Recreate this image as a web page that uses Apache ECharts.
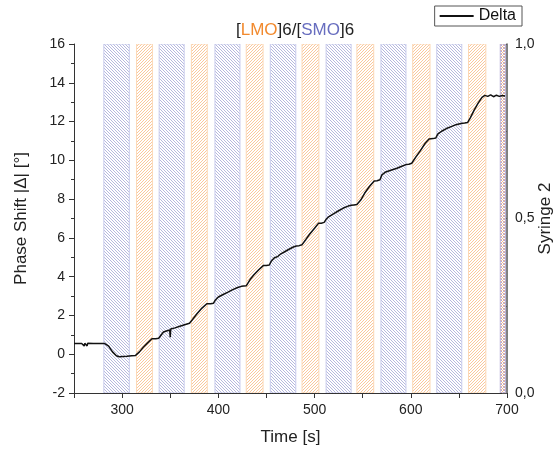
<!DOCTYPE html>
<html>
<head>
<meta charset="utf-8">
<script src="https://cdn.jsdelivr.net/npm/echarts@6/dist/echarts.min.js"></script>
<style>
html,body{margin:0;padding:0;background:#fff;}
#chart{width:556px;height:452px;}
</style>
</head>
<body>
<div id="chart"></div>
<script>
// ---- data ----
const timeS = [250,258,260,260.6,261.2,263,263.6,264.2,270,276,282,286,290,294,297,301,305,310,314,318,322,326,331,335,338,340,343,346,348,349.5,350,350.5,355,360,365,370,373,378,383,388,392,395,397,400,405,410,415,420,424,429,433,437,442,447,450,453,455,458,462,465,468,473,478,481,484,487,491,495,500,504,507,510,512,515,520,525,530,535,538,541,544,548,552,557,562,565,568,570,574,580,585,590,595,598,601,605,610,615,619,623,626,628,632,637,642,647,652,656,659,662,666,670,674,677,680,683,686,689,692,695,698];
const delta = [0.55,0.55,0.55,0.42,0.56,0.55,0.43,0.56,0.55,0.55,0.55,0.42,0.12,-0.08,-0.13,-0.12,-0.11,-0.08,-0.06,0.12,0.36,0.56,0.8,0.8,0.82,0.86,1.15,1.2,1.24,1.25,0.88,1.3,1.36,1.44,1.52,1.6,1.78,2.1,2.38,2.6,2.6,2.63,2.8,2.95,3.08,3.2,3.33,3.44,3.5,3.53,3.85,4.1,4.36,4.58,4.58,4.6,4.8,4.96,5.05,5.18,5.26,5.4,5.53,5.58,5.6,5.65,5.92,6.2,6.5,6.75,6.76,6.8,6.96,7.1,7.25,7.4,7.54,7.64,7.68,7.7,7.72,7.95,8.3,8.65,8.93,8.95,9.0,9.25,9.4,9.5,9.58,9.68,9.78,9.8,9.85,10.15,10.5,10.88,11.1,11.12,11.15,11.35,11.5,11.64,11.74,11.84,11.9,11.92,11.95,12.2,12.6,12.95,13.25,13.35,13.3,13.38,13.28,13.36,13.3,13.34,13.32];
const smoBands = [[281,307.5],[338.5,364.5],[396.5,422.5],[454,480.5],[512,538],[569,595],[627,653]];
const lmoBands = [[315,331.5],[372,388.5],[429,446.5],[487,504.5],[544,561.5],[602,620],[660,678]];
const mixBands = [[693,698.5]];
const xLabels = [300,400,500,600,700];

function makePattern(color, dir, color2) {
  const n = 3;
  const c = document.createElement('canvas');
  c.width = n; c.height = n;
  const g = c.getContext('2d');
  g.fillStyle = '#ffffff';
  g.fillRect(0,0,n,n);
  for (let i = 0; i < n; i++) {
    g.fillStyle = color;
    if (dir === 'back') g.fillRect(i, i, 1, 1);
    else if (dir === 'fwd') g.fillRect(n-1-i, i, 1, 1);
    else { g.fillRect(i, i, 1, 1); g.fillStyle = color2; g.fillRect(n-1-i, i, 1, 1); }
  }
  return {image: c, repeat: 'repeat'};
}
const patBlue = makePattern('#b6b8de', 'back');
const patOrange = makePattern('#fac89c', 'fwd');
const patMix = makePattern('#b0a8d8', 'cross', '#f2b890');

const bandData = [];
smoBands.forEach(b => bandData.push([b[0], b[1], 0]));
lmoBands.forEach(b => bandData.push([b[0], b[1], 1]));
mixBands.forEach(b => bandData.push([b[0], b[1], 2]));

const lineData = timeS.map((t, i) => [t, delta[i]]);

const FONT = 'Liberation Sans, Arial, sans-serif';
const chart = echarts.init(document.getElementById('chart'));
chart.setOption({
  animation: false,
  backgroundColor: '#ffffff',
  title: {
    text: '[{o|LMO}]6/[{b|SMO}]6',
    left: 231, top: 17,
    textStyle: {
      fontFamily: FONT, fontSize: 17, fontWeight: 'normal', color: '#222',
      rich: {
        o: {color: '#f28a2e', fontSize: 17, fontFamily: FONT},
        b: {color: '#676dbf', fontSize: 17, fontFamily: FONT}
      }
    }
  },
  legend: {
    data: ['Delta'],
    right: 34, top: 6,
    borderColor: '#555', borderWidth: 1, borderRadius: 0,
    padding: [2, 6, 2, 4],
    itemWidth: 34, itemHeight: 14, itemGap: 6,
    itemStyle: {opacity: 0},
    textStyle: {fontFamily: FONT, fontSize: 16, color: '#111'}
  },
  grid: {left: 74, right: 49, top: 44, bottom: 59, outerBoundsMode: 'none', containLabel: false},
  xAxis: {
    type: 'value', min: 250, max: 700, interval: 50,
    name: 'Time [s]', nameLocation: 'middle', nameGap: 36,
    nameTextStyle: {fontFamily: FONT, fontSize: 17, color: '#222'},
    axisLine: {show: true, onZero: false, lineStyle: {color: '#333', width: 1}},
    axisTick: {show: true, length: 5, lineStyle: {color: '#333'}},
    axisLabel: {fontFamily: FONT, fontSize: 14, color: '#222', margin: 10,
      formatter: v => (xLabels.indexOf(v) >= 0 ? String(v) : '')},
    splitLine: {show: false}
  },
  yAxis: [{
    type: 'value', min: -2, max: 16, interval: 2,
    name: 'Phase Shift |Δ| [°]', nameLocation: 'middle', nameGap: 44,
    nameTextStyle: {fontFamily: FONT, fontSize: 17, color: '#222'},
    axisLine: {show: true, onZero: false, lineStyle: {color: '#333', width: 1}},
    axisTick: {show: true, length: 5, lineStyle: {color: '#333'}},
    minorTick: {show: true, splitNumber: 2, length: 3, lineStyle: {color: '#333'}},
    axisLabel: {fontFamily: FONT, fontSize: 14, color: '#222', margin: 9},
    splitLine: {show: false}
  }, {
    type: 'value', min: 0, max: 1, interval: 0.5, position: 'right',
    name: 'Syringe 2', nameLocation: 'middle', nameGap: 30, nameRotate: 90,
    nameMoveOverlap: false,
    nameTextStyle: {fontFamily: FONT, fontSize: 17, color: '#222'},
    axisLine: {show: true, onZero: false, lineStyle: {color: '#555', width: 1.5}},
    axisTick: {show: true, inside: true, length: 5, lineStyle: {color: '#555'}},
    minorTick: {show: true, splitNumber: 2, length: 4, lineStyle: {color: '#555'}},
    axisLabel: {fontFamily: FONT, fontSize: 14, color: '#222', margin: 8,
      formatter: v => v.toFixed(1).replace('.', ',')},
    splitLine: {show: false}
  }],
  series: [{
    type: 'custom', name: 'bands', xAxisIndex: 0, yAxisIndex: 0,
    data: bandData, clip: true, silent: true,
    encode: {x: [0, 1], y: -1},
    renderItem: function (params, api) {
      const p0 = api.coord([api.value(0), 16]);
      const p1 = api.coord([api.value(1), -2]);
      const k = api.value(2);
      const fill = k === 0 ? patBlue : (k === 1 ? patOrange : patMix);
      const stroke = k === 0 ? '#c8cbec' : (k === 1 ? '#fcd8b6' : '#b9b2d8');
      return {
        type: 'rect',
        shape: {x: p0[0], y: p0[1], width: p1[0] - p0[0], height: p1[1] - p0[1]},
        style: {fill: fill, stroke: stroke, lineWidth: 1}
      };
    },
    z: 1
  }, {
    type: 'line', name: 'Delta', xAxisIndex: 0, yAxisIndex: 0,
    data: lineData, symbol: 'none', showSymbol: false,
    lineStyle: {color: '#111', width: 1.5},
    itemStyle: {color: '#111'},
    z: 3
  }]
});
</script>
</body>
</html>
